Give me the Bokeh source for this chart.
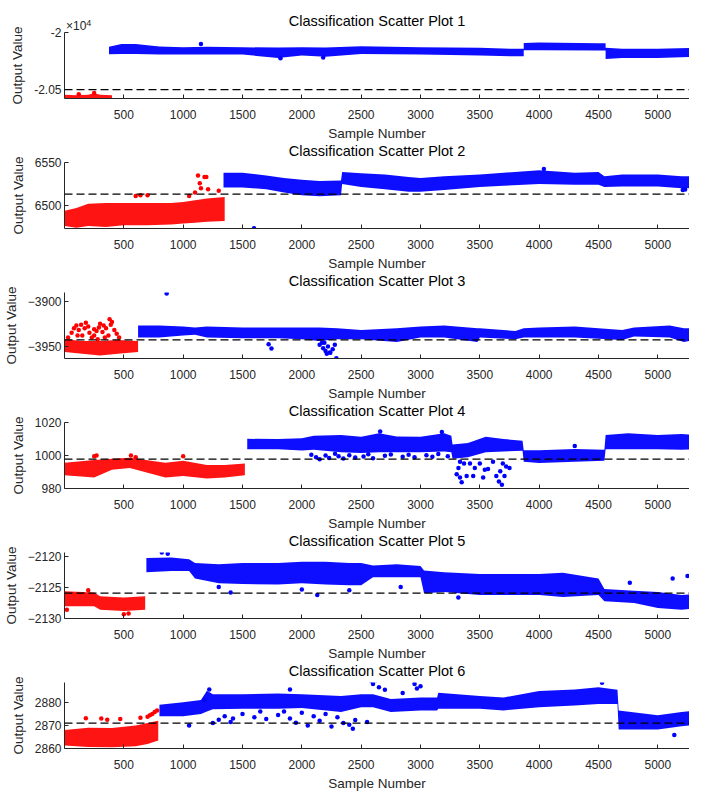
from bokeh.plotting import figure
from bokeh.layouts import column
from bokeh.models import FixedTicker, Span, Range1d, Title, Div
from bokeh.embed import file_html
from bokeh.resources import INLINE

# ---------------- data ----------------
SAMPLE_TICKS = [500, 1000, 1500, 2000, 2500, 3000, 3500, 4000, 4500, 5000]
TITLES = ["Classification Scatter Plot %d" % i for i in range(1, 7)]
THRESHOLDS = [-20500, 6513.2, -3942.7, 997.8, -2125.9, 2871.0]

# Plot 1
P1_RED_X = [1, 100, 200, 250, 300, 400]
P1_RED_HI = [-20545, -20548, -20545, -20532, -20545, -20548]
P1_RED_LO = [-20585, -20588, -20590, -20588, -20585, -20582]
P1_BLUE_X = [375, 480, 600, 800, 1000, 1200, 1500, 1800, 2000, 2200, 2500, 3000, 3500, 3800, 3870, 3870, 4000, 4500, 4560, 4560, 4700, 5000, 5333]
P1_BLUE_HI = [-20125, -20100, -20100, -20122, -20129, -20125, -20129, -20132, -20129, -20132, -20120, -20129, -20134, -20143, -20143, -20091, -20088, -20093, -20093, -20134, -20143, -20143, -20134]
P1_BLUE_LO = [-20190, -20187, -20187, -20193, -20193, -20193, -20193, -20222, -20202, -20213, -20187, -20193, -20202, -20208, -20208, -20155, -20155, -20158, -20158, -20231, -20222, -20222, -20213]
P1_RED_OUT_X = [250, 120]
P1_RED_OUT_Y = [-20528, -20540]
P1_BLUE_OUT_X = [1150, 1820, 2180]
P1_BLUE_OUT_Y = [-20100, -20225, -20218]

# Plot 2
P2_RED_X = [1, 100, 200, 350, 500, 700, 900, 1000, 1100, 1200, 1350]
P2_RED_HI = [6494, 6497, 6502, 6503, 6503, 6503, 6503, 6504, 6506, 6508, 6510]
P2_RED_LO = [6476, 6474, 6476, 6475, 6477, 6477, 6478, 6479, 6480, 6481, 6482]
P2_RED_OUT_X = [600, 640, 700, 1050, 1100, 1125, 1140, 1150, 1180, 1195, 1210, 1300]
P2_RED_OUT_Y = [6511, 6512, 6512, 6511, 6515, 6535, 6526, 6520, 6533, 6533, 6519, 6517]
P2_BLUE_X = [1340, 1500, 1700, 1850, 2000, 2150, 2330, 2340, 2500, 2700, 2900, 3000, 3200, 3500, 3700, 4000, 4300, 4500, 4550, 4700, 5000, 5200, 5333]
P2_BLUE_HI = [6538, 6538, 6535, 6532, 6530, 6528.6, 6529, 6539, 6537.5, 6536, 6533, 6532, 6534, 6536, 6538, 6541, 6538, 6539, 6534, 6536, 6536, 6534, 6534]
P2_BLUE_LO = [6521, 6521, 6519, 6515, 6512, 6510.7, 6512, 6525, 6521.4, 6519, 6516, 6516, 6518, 6521.4, 6523, 6525, 6524, 6524, 6521.4, 6522, 6522, 6520, 6520]
P2_BLUE_OUT_X = [1597, 5210, 5230, 4040]
P2_BLUE_OUT_Y = [6473.5, 6518, 6518.5, 6542.5]

# Plot 3
P3_RED_X = [1, 150, 300, 450, 620]
P3_RED_HI = [-3942, -3944, -3944, -3943, -3944]
P3_RED_LO = [-3956, -3958, -3960, -3958, -3956]
P3_RED_OUT_X = [30, 60, 80, 100, 110, 120, 140, 150, 170, 180, 200, 210, 230, 250, 250, 270, 280, 290, 300, 320, 330, 340, 350, 370, 380, 390, 400, 420, 440, 460]
P3_RED_OUT_Y = [-3940, -3935, -3930, -3927, -3938, -3932, -3926, -3938, -3930, -3924, -3928, -3935, -3940, -3938, -3931, -3933, -3942, -3929, -3925, -3934, -3927, -3940, -3930, -3938, -3920, -3926, -3923, -3932, -3936, -3940]
P3_BLUE_X = [620, 800, 1000, 1100, 1200, 1500, 1800, 2000, 2150, 2300, 2500, 2800, 3000, 3200, 3480, 3500, 3800, 3870, 4000, 4300, 4700, 4800, 5100, 5220, 5333]
P3_BLUE_HI = [-3927, -3927, -3928, -3929, -3928, -3929, -3929, -3929, -3929, -3930, -3932, -3930, -3928, -3927, -3930, -3930, -3933, -3930, -3929, -3928, -3932, -3929, -3927, -3930, -3930]
P3_BLUE_LO = [-3940, -3940, -3938, -3937, -3940, -3941, -3941, -3942, -3944, -3942, -3942, -3945, -3940, -3940, -3945, -3940, -3942, -3940, -3940, -3940, -3943, -3939, -3940, -3945, -3942]
P3_BLUE_OUT_X = [861, 1720, 1744, 2150, 2170, 2180, 2190, 2200, 2210, 2220, 2236, 2240, 2260, 2278, 2291]
P3_BLUE_OUT_Y = [-3891.7, -3947.7, -3952.3, -3948, -3946, -3952, -3946, -3955, -3958, -3950, -3956.7, -3957, -3953, -3948, -3963]

# Plot 4
P4_RED_X = [1, 250, 400, 550, 700, 850, 1000, 1200, 1350, 1520]
P4_RED_HI = [995.6, 997.3, 998.1, 998.7, 997.1, 995.6, 996.8, 994.3, 994.3, 995.2]
P4_RED_LO = [988, 986.7, 991.4, 992.4, 989.5, 986.7, 987.6, 986.1, 986.7, 988]
P4_RED_OUT_X = [250, 270, 560, 600, 1000]
P4_RED_OUT_Y = [999.5, 1000, 1000, 999, 999.6]
P4_BLUE_X = [1540, 1800, 2000, 2100, 2330, 2500, 2650, 2800, 3000, 3200, 3260, 3270, 3400, 3550, 3700, 3860, 3870, 4000, 4300, 4550, 4560, 4750, 5000, 5200, 5333]
P4_BLUE_HI = [1010.1, 1010, 1010.5, 1012, 1012.4, 1011.4, 1013.5, 1011.5, 1011.4, 1013.5, 1012, 1006.7, 1007.6, 1011.4, 1010, 1009, 1003.2, 1003.2, 1004, 1003.5, 1012.4, 1013.5, 1012.4, 1013, 1012.4]
P4_BLUE_LO = [1003.8, 1003.8, 1003, 1003.5, 1002, 1001.5, 1002, 1002, 1002, 1002.5, 1002, 998.1, 999, 1002, 1002.5, 1002.9, 996.2, 995.5, 996.2, 996.8, 1003.8, 1003.8, 1003.8, 1003.5, 1003.8]
P4_BLUE_OUT_X = [2080, 2120, 2150, 2200, 2230, 2280, 2310, 2350, 2400, 2450, 2520, 2560, 2600, 2700, 2750, 2850, 2900, 2950, 3050, 3100, 3150, 3230,
                 3305, 3320, 3333, 3333, 3347, 3367, 3389, 3417, 3444, 3458, 3500, 3528, 3542, 3569, 3611, 3639, 3661, 3672, 3686, 3694, 3708, 3722, 3750, 2660, 3180, 4300]
P4_BLUE_OUT_Y = [1000.5, 999, 997.8, 1000, 998.5, 1001, 999.5, 998.2, 1000.2, 998.8, 999.4, 1000.8, 998.4, 999.8, 1000.6, 999.2, 1000.4, 998.9, 1000.1, 999.3, 1000.9, 999.6,
                 988.6, 992.4, 986.7, 996.2, 983.8, 995.2, 987.6, 995.2, 987.6, 992.4, 995.2, 986.7, 991.4, 991.8, 996.2, 987.6, 984.2, 990.5, 982.3, 995.2, 987.6, 993.3, 992.4, 1014.5, 1014.3, 1005.8]

# Plot 5
P5_RED_X = [1, 250, 300, 500, 680]
P5_RED_HI = [-2125.6, -2125.8, -2126.4, -2126.6, -2126.4]
P5_RED_LO = [-2128, -2128, -2128.6, -2128.8, -2128.6]
P5_RED_OUT_X = [20, 200, 500, 540]
P5_RED_OUT_Y = [-2128.6, -2125.4, -2129.3, -2129.2]
P5_BLUE_X = [690, 900, 1050, 1100, 1300, 1500, 1800, 2000, 2200, 2400, 2500, 2600, 2800, 3000, 3030, 3200, 3500, 4000, 4200, 4500, 4550, 4800, 5000, 5200, 5333]
P5_BLUE_HI = [-2120.2, -2120.1, -2120.4, -2121, -2121.2, -2121, -2121, -2120.8, -2120.8, -2121, -2121, -2121.4, -2121.2, -2121.5, -2122.2, -2122.5, -2122.8, -2122.8, -2122.6, -2123.5, -2125.2, -2125.5, -2125.7, -2126.2, -2126]
P5_BLUE_LO = [-2122.5, -2122.3, -2122.3, -2123.5, -2124.3, -2124.4, -2124.5, -2124.3, -2124.5, -2124.6, -2124.6, -2123.3, -2123.3, -2123.3, -2125.9, -2125.7, -2126.2, -2126.2, -2126.5, -2126.2, -2127.2, -2127.5, -2128.3, -2128.6, -2128.3]
P5_BLUE_OUT_X = [820, 850, 870, 1300, 1400, 2000, 2130, 2400, 2833, 3319, 4764, 5125, 5250]
P5_BLUE_OUT_Y = [-2119.3, -2118.5, -2119.5, -2124.9, -2125.8, -2125.3, -2126.2, -2125.4, -2124.9, -2126.6, -2124.2, -2123.5, -2123.1]

# Plot 6
P6_RED_X = [1, 200, 400, 600, 700, 790]
P6_RED_HI = [2868, 2869, 2868.9, 2870, 2871, 2872]
P6_RED_LO = [2861.3, 2860.6, 2860.5, 2861, 2862, 2863.5]
P6_RED_OUT_X = [180, 310, 360, 470, 640, 700, 720, 740, 760, 780]
P6_RED_OUT_Y = [2873.1, 2873, 2872.5, 2872.8, 2873.3, 2873.8, 2874.4, 2875, 2875.8, 2876.5]
P6_BLUE_X = [800, 1000, 1150, 1200, 1250, 1500, 1800, 2000, 2330, 2500, 2600, 2750, 3000, 3140, 3150, 3500, 3700, 4000, 4300, 4500, 4660, 4670, 5000, 5200, 5333]
P6_BLUE_HI = [2879, 2880, 2881, 2885, 2883.5, 2883.5, 2883.8, 2883.5, 2882.8, 2883.5, 2883.5, 2881.4, 2882.1, 2882.1, 2884.2, 2882.8, 2882.1, 2884.9, 2885.6, 2886.5, 2885.5, 2876.5, 2874.4, 2875.8, 2876.5]
P6_BLUE_LO = [2874, 2874, 2875, 2876, 2877, 2877.2, 2877.2, 2877.5, 2875.8, 2877.9, 2877.9, 2875.8, 2876.5, 2876.5, 2877.2, 2877.2, 2876.5, 2877.9, 2878.6, 2879.3, 2879.3, 2868.2, 2868.2, 2869.6, 2870.3]
P6_BLUE_OUT_X = [1050, 1180, 1220, 1250, 1300, 1350, 1400, 1420, 1500, 1600, 1650, 1700, 1800, 1850, 1900, 1900, 1950, 2000, 2050, 2100, 2150, 2200, 2250, 2300, 2350, 2400, 2430, 2450, 2550, 2580, 2600, 2625, 2650, 2700, 2850, 2950, 2970, 3000, 4530, 5139]
P6_BLUE_OUT_Y = [2870, 2881, 2885.6, 2871, 2872.5, 2874, 2871.5, 2873, 2875, 2873.5, 2876, 2872.8, 2874.5, 2876, 2873, 2885.6, 2871.2, 2875.5, 2870, 2874, 2872, 2875, 2869.5, 2873.5, 2871, 2870.3, 2868.6, 2872.3, 2871.5, 2889.5, 2888, 2889.7, 2886.5, 2885.5, 2884, 2888, 2886, 2887, 2888.5, 2865.8]

# axis limits and ticks
X_LIMITS = (0, 5267)
Y_LIMITS = [(-20577, -20000), (6473.2, 6550), (-3963.3, -3890.5), (980, 1020), (-2130, -2119.3), (2860, 2888.6)]
Y_TICKS = [[-20500, -20000], [6500, 6550], [-3950, -3900], [980, 1000, 1020], [-2130, -2125, -2120], [2860, 2870, 2880]]
Y_TICK_LABELS_P1 = {-20500: "-2.05", -20000: "-2"}
EXPONENT_P1 = ("\u00d710", "4")

PANELS = [
    (P1_RED_X, P1_RED_LO, P1_RED_HI, P1_BLUE_X, P1_BLUE_LO, P1_BLUE_HI, P1_RED_OUT_X, P1_RED_OUT_Y, P1_BLUE_OUT_X, P1_BLUE_OUT_Y),
    (P2_RED_X, P2_RED_LO, P2_RED_HI, P2_BLUE_X, P2_BLUE_LO, P2_BLUE_HI, P2_RED_OUT_X, P2_RED_OUT_Y, P2_BLUE_OUT_X, P2_BLUE_OUT_Y),
    (P3_RED_X, P3_RED_LO, P3_RED_HI, P3_BLUE_X, P3_BLUE_LO, P3_BLUE_HI, P3_RED_OUT_X, P3_RED_OUT_Y, P3_BLUE_OUT_X, P3_BLUE_OUT_Y),
    (P4_RED_X, P4_RED_LO, P4_RED_HI, P4_BLUE_X, P4_BLUE_LO, P4_BLUE_HI, P4_RED_OUT_X, P4_RED_OUT_Y, P4_BLUE_OUT_X, P4_BLUE_OUT_Y),
    (P5_RED_X, P5_RED_LO, P5_RED_HI, P5_BLUE_X, P5_BLUE_LO, P5_BLUE_HI, P5_RED_OUT_X, P5_RED_OUT_Y, P5_BLUE_OUT_X, P5_BLUE_OUT_Y),
    (P6_RED_X, P6_RED_LO, P6_RED_HI, P6_BLUE_X, P6_BLUE_LO, P6_BLUE_HI, P6_RED_OUT_X, P6_RED_OUT_Y, P6_BLUE_OUT_X, P6_BLUE_OUT_Y),
]

# ---------------- styling ----------------
FONT = "Liberation Sans"
AXIS_COLOR = "#262626"
RED = "#FF0000"
BLUE = "#0000FF"
FIG_W, FIG_H, OVERLAP = 689, 142, 12
EXP_H = 32


def make_panel(i):
    rx, rlo, rhi, bx, blo, bhi, rox, roy, box, boy = PANELS[i]
    p = figure(width=FIG_W, height=FIG_H,
               x_range=Range1d(*X_LIMITS), y_range=Range1d(*Y_LIMITS[i]),
               output_backend="svg", toolbar_location=None,
               min_border_left=57, min_border_right=0,
               min_border_top=0, min_border_bottom=0,
               title=None)
    p.outline_line_color = None
    p.grid.visible = False
    p.background_fill_color = "white"
    p.border_fill_color = None

    # title (nearest the frame) and a small spacer above it
    p.add_layout(Title(text=TITLES[i], align="center", text_font=FONT,
                       text_font_size="14.5px", text_font_style="normal",
                       text_color="black", standoff=7), "above")
    p.add_layout(Title(text=" ", text_font_size="2px", standoff=3), "above")

    # bands of dense points
    p.varea(x=rx, y1=rlo, y2=rhi, fill_color=RED, fill_alpha=0.92)
    p.varea(x=bx, y1=blo, y2=bhi, fill_color=BLUE, fill_alpha=0.95)
    # isolated points
    p.scatter(x=rox, y=roy, marker="circle", size=4.5, color=RED, line_width=0)
    p.scatter(x=box, y=boy, marker="circle", size=4.5, color=BLUE, line_width=0)

    p.add_layout(Span(location=THRESHOLDS[i], dimension="width",
                      line_color="black", line_dash="8 4", line_width=1.2))

    for ax in (p.xaxis[0], p.yaxis[0]):
        ax.axis_line_color = AXIS_COLOR
        ax.major_tick_line_color = AXIS_COLOR
        ax.major_tick_in = 4
        ax.major_tick_out = 0
        ax.minor_tick_line_color = None
        ax.major_label_text_font = FONT
        ax.major_label_text_font_size = "12px"
        ax.major_label_text_color = AXIS_COLOR
        ax.axis_label_text_font = FONT
        ax.axis_label_text_font_size = "13.5px"
        ax.axis_label_text_font_style = "normal"
        ax.axis_label_text_color = AXIS_COLOR

    p.xaxis.ticker = FixedTicker(ticks=SAMPLE_TICKS)
    p.xaxis.major_label_standoff = 11
    # x-axis label drawn as a centred caption below the axis
    p.add_layout(Title(text="Sample Number", align="center", text_font=FONT,
                       text_font_size="13.5px", text_font_style="normal",
                       text_color=AXIS_COLOR, standoff=4), "below")

    p.yaxis.ticker = FixedTicker(ticks=Y_TICKS[i])
    p.yaxis.axis_label = "Output Value"
    p.yaxis.major_label_standoff = 3
    p.yaxis.axis_label_standoff = 6

    if i == 0:
        p.yaxis.major_label_overrides = {float(k): v for k, v in Y_TICK_LABELS_P1.items()}
    return p


figs = [make_panel(i) for i in range(6)]

# y-axis exponent of the first plot, shown just above its axis
exp_div = Div(
    text=('<div style="padding:17px 0 0 66px;font-family:\'Liberation Sans\';font-size:12px;'
          'line-height:12px;color:%s;white-space:nowrap">%s'
          '<span style="font-size:9px;vertical-align:4px">%s</span></div>')
    % (AXIS_COLOR, EXPONENT_P1[0], EXPONENT_P1[1]),
    width=FIG_W, height=EXP_H, margin=(0, 0, 0, 0))

# let neighbouring figures share their empty margins
figs[0].margin = (-EXP_H, 0, 0, 0)
for k, f in enumerate(figs):
    if k > 0:
        f.margin = (-OVERLAP, 0, 0, 0)
layout = column(exp_div, *figs, spacing=0)

with open("out.html", "w") as f:
    f.write(file_html(layout, INLINE))
